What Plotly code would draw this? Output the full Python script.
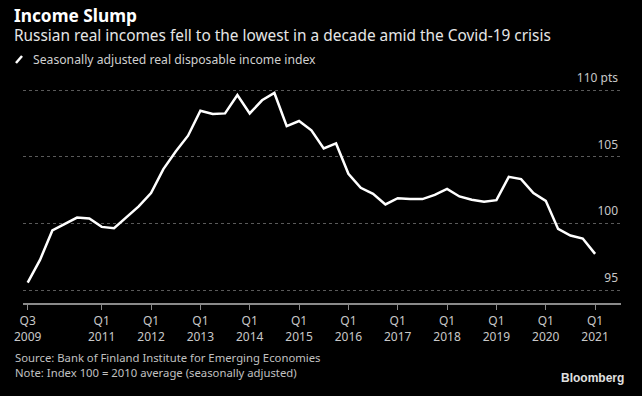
import plotly.graph_objects as go

quarters = [
    "Q3 2009", "Q4 2009",
    "Q1 2010", "Q2 2010", "Q3 2010", "Q4 2010",
    "Q1 2011", "Q2 2011", "Q3 2011", "Q4 2011",
    "Q1 2012", "Q2 2012", "Q3 2012", "Q4 2012",
    "Q1 2013", "Q2 2013", "Q3 2013", "Q4 2013",
    "Q1 2014", "Q2 2014", "Q3 2014", "Q4 2014",
    "Q1 2015", "Q2 2015", "Q3 2015", "Q4 2015",
    "Q1 2016", "Q2 2016", "Q3 2016", "Q4 2016",
    "Q1 2017", "Q2 2017", "Q3 2017", "Q4 2017",
    "Q1 2018", "Q2 2018", "Q3 2018", "Q4 2018",
    "Q1 2019", "Q2 2019", "Q3 2019", "Q4 2019",
    "Q1 2020", "Q2 2020", "Q3 2020", "Q4 2020",
    "Q1 2021",
]
income_index = [
    95.57, 97.28,
    99.48, 99.95, 100.45, 100.38,
    99.75, 99.65, 100.5, 101.28,
    102.28, 104.08, 105.4, 106.58,
    108.45, 108.2, 108.25, 109.63,
    108.25, 109.23, 109.78, 107.3,
    107.68, 106.98, 105.63, 106.0,
    103.73, 102.68, 102.23, 101.43,
    101.9, 101.83, 101.83, 102.15,
    102.6, 102.03, 101.78, 101.63,
    101.75, 103.5, 103.33, 102.28,
    101.7, 99.6, 99.1, 98.88,
    97.73,
]
x_tick_quarters = ["Q3 2009", "Q1 2011", "Q1 2012", "Q1 2013", "Q1 2014", "Q1 2015",
                   "Q1 2016", "Q1 2017", "Q1 2018", "Q1 2019", "Q1 2020", "Q1 2021"]
y_tick_values = [95, 100, 105, 110]
y_tick_labels = ["95", "100", "105", "110 pts"]

x_idx = list(range(len(quarters)))
tickvals = [quarters.index(q) for q in x_tick_quarters]
ticktext = [q.replace(" ", "<br>") for q in x_tick_quarters]

FONT = "Noto Sans"
W, H = 642, 396
ML, MR, MT, MB = 23, 21, 80, 93
PW, PH = W - ML - MR, H - MT - MB

fig = go.Figure()
fig.add_trace(go.Scatter(
    x=x_idx, y=income_index, mode="lines",
    line=dict(color="white", width=2.5),
    showlegend=False, hoverinfo="skip",
))

fig.update_layout(
    width=W, height=H,
    paper_bgcolor="black", plot_bgcolor="black",
    margin=dict(l=ML, r=MR, t=MT, b=MB, autoexpand=False),
    font=dict(family=FONT, color="#cccccc"),
    xaxis=dict(
        range=[-0.38, 48.1], automargin=False,
        tickvals=tickvals, ticktext=ticktext,
        showgrid=False, zeroline=False,
        showline=True, linecolor="#8a8a8a", linewidth=1.5,
        ticks="outside", ticklen=5, tickcolor="#8a8a8a", tickwidth=1,
        ticklabelstandoff=1,
        tickfont=dict(size=12, color="#c8c8c8", family=FONT),
    ),
    yaxis=dict(
        range=[94.05, 110.75], automargin=False,
        side="right",
        tickvals=y_tick_values, ticktext=y_tick_labels,
        ticklabelposition="inside top", ticklabeloverflow="allow",
        ticklabelshift=-4,
        showgrid=True, gridcolor="#5a5a5a", griddash="dot", gridwidth=1,
        zeroline=False, showline=False, ticks="",
        tickfont=dict(size=12, color="#c8c8c8", family=FONT),
    ),
)


def px_to_paper(px, py):
    return (px - ML) / PW, 1 - (py - MT) / PH


texts = [
    dict(text="<b>Income Slump</b>", x=12, y=15, size=17.3, color="white", font=FONT),
    dict(text="Russian real incomes fell to the lowest in a decade amid the Covid-19 crisis",
         x=12, y=35, size=15.4, color="#e6e6e6", font=FONT),
    dict(text="Seasonally adjusted real disposable income index", x=31, y=60, size=12.2,
         color="#d0d0d0", font=FONT),
    dict(text="Source: Bank of Finland Institute for Emerging Economies", x=13, y=357, size=11.3,
         color="#c0c0c0", font=FONT),
    dict(text="Note: Index 100 = 2010 average (seasonally adjusted)", x=13, y=372, size=11.3,
         color="#c0c0c0", font=FONT),
]
for a in texts:
    ax, ay = px_to_paper(a["x"], a["y"])
    fig.add_annotation(
        x=ax, y=ay, xref="paper", yref="paper",
        text=a["text"], showarrow=False, xanchor="left", yanchor="middle",
        font=dict(size=a["size"], color=a["color"], family=a["font"]),
    )

bx, by = px_to_paper(626, 378)
fig.add_annotation(
    x=bx, y=by, xref="paper", yref="paper",
    text="<b>Bloomberg</b>", showarrow=False, xanchor="right", yanchor="middle",
    font=dict(size=12, color="#e0e0e0", family="Liberation Sans"),
)
# legend slash
sx0, sy0 = px_to_paper(16, 63)
sx1, sy1 = px_to_paper(22, 56)
fig.add_shape(type="line", xref="paper", yref="paper",
              x0=sx0, y0=sy0, x1=sx1, y1=sy1,
              line=dict(color="white", width=2.5))

fig.write_html(
    "out.html",
    config={"displayModeBar": False},
    post_script="document.body.style.margin='0';document.body.style.background='black';",
)
